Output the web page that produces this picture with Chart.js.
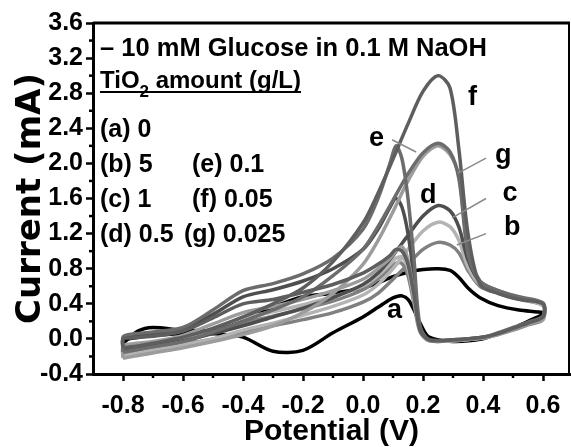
<!DOCTYPE html>
<html><head><meta charset="utf-8">
<script src="https://cdn.jsdelivr.net/npm/chart.js@4.4.0/dist/chart.umd.min.js"></script>
<style>html,body{margin:0;padding:0;background:#fff;}#wrap{position:relative;width:571px;height:447px;}</style>
</head><body><div id="wrap"><canvas id="c"></canvas></div>
<script>
// Potential grids (V): forward scan -0.8 -> 0.6, reverse scan 0.6 -> -0.8
const potF = [-0.8,-0.75,-0.7,-0.6,-0.5,-0.4,-0.3,-0.2,-0.1,0.0,0.05,0.1,0.15,0.2,0.25,0.29,0.32,0.35,0.39,0.45,0.52,0.6];
const potR = [0.6,0.55,0.5,0.45,0.4,0.3,0.22,0.19,0.17,0.15,0.13,0.11,0.09,0.05,0.0,-0.1,-0.2,-0.3,-0.4,-0.5,-0.6,-0.7,-0.78,-0.8];

// Current (mA), forward scans
const fwdA = [-0.05,0.09,0.13,0.1,0.1,0.2,0.36,0.48,0.52,0.58,0.64,0.71,0.76,0.79,0.8,0.78,0.7,0.58,0.47,0.38,0.33,0.3];
const fwdB = [-0.18,-0.15,-0.12,-0.06,0.0,0.08,0.15,0.22,0.3,0.42,0.52,0.68,0.85,1.02,1.1,1.07,0.98,0.78,0.6,0.52,0.45,0.38];
const fwdC = [-0.2,-0.16,-0.13,-0.07,0.0,0.1,0.18,0.27,0.37,0.5,0.62,0.8,1.02,1.23,1.33,1.28,1.12,0.82,0.62,0.53,0.46,0.38];
const fwdD = [-0.12,-0.1,-0.08,-0.02,0.06,0.15,0.25,0.35,0.47,0.62,0.75,0.95,1.18,1.4,1.52,1.46,1.27,0.9,0.65,0.55,0.47,0.4];
const fwdE = [-0.15,-0.12,-0.09,-0.03,0.08,0.2,0.33,0.48,0.72,1.02,1.28,1.58,1.88,2.12,2.23,2.13,1.82,0.98,0.66,0.55,0.48,0.41];
const fwdF = [-0.1,-0.08,-0.05,0.02,0.12,0.25,0.4,0.58,0.88,1.32,1.66,2.05,2.45,2.82,3.0,2.86,2.15,1.2,0.62,0.52,0.45,0.4];
const fwdG = [-0.22,-0.19,-0.16,-0.1,-0.03,0.05,0.15,0.3,0.52,0.85,1.12,1.45,1.8,2.08,2.2,2.1,1.85,1.0,0.66,0.55,0.47,0.4];

// Current (mA), reverse scans
const revA = [0.28,0.2,0.12,0.06,0.0,-0.03,0.02,0.18,0.33,0.45,0.49,0.48,0.45,0.36,0.25,0.07,-0.13,-0.14,0.02,0.06,0.06,0.04,0.0,-0.05];
const revB = [0.22,0.16,0.1,0.05,0.01,-0.02,-0.02,0.08,0.4,0.72,0.86,0.86,0.8,0.68,0.56,0.43,0.34,0.26,0.18,0.07,-0.03,-0.09,-0.12,-0.13];
const revC = [0.23,0.17,0.11,0.05,0.01,-0.02,-0.02,0.1,0.45,0.8,0.93,0.92,0.85,0.72,0.6,0.48,0.39,0.31,0.24,0.12,0.0,-0.06,-0.09,-0.1];
const revD = [0.25,0.18,0.12,0.06,0.02,-0.01,-0.01,0.12,0.7,1.2,1.5,1.6,1.5,1.25,1.02,0.8,0.66,0.56,0.48,0.28,0.12,0.06,0.03,0.0];
const revE = [0.26,0.19,0.13,0.07,0.02,-0.01,-0.01,0.15,0.9,1.6,2.05,2.2,2.0,1.6,1.25,0.92,0.74,0.63,0.55,0.33,0.13,0.08,0.05,0.02];
const revF = [0.25,0.18,0.12,0.06,0.02,-0.01,-0.01,0.1,0.5,0.85,1.0,1.02,0.95,0.85,0.75,0.62,0.53,0.45,0.4,0.24,0.09,0.03,0.01,0.0];
const revG = [0.24,0.17,0.11,0.05,0.01,-0.02,-0.02,0.1,0.5,0.9,1.05,1.0,0.92,0.8,0.68,0.55,0.45,0.37,0.3,0.17,0.04,-0.03,-0.06,-0.08];

const seriesNames = ['a','b','c','d','e','f','g'];
const xTicks = [-0.8,-0.6,-0.4,-0.2,0.0,0.2,0.4,0.6];
const xMinor = [-0.7,-0.5,-0.3,-0.1,0.1,0.3,0.5];
const yTicks = [-0.4,0.0,0.4,0.8,1.2,1.6,2.0,2.4,2.8,3.2,3.6];
const yMinor = [-0.2,0.2,0.6,1.0,1.4,1.8,2.2,2.6,3.0,3.4];

const titleLine = '\u2013 10 mM Glucose in 0.1 M NaOH';
const amountTitle = ['TiO', '2', ' amount (g/L)'];
const legendCol1 = ['(a) 0','(b) 5','(c) 1','(d) 0.5'];
const legendCol2 = ['','(e) 0.1','(f) 0.05','(g) 0.025'];

// curve letter labels (V, mA) and leader lines
const labelPos = {a:[0.08,0.24], b:[0.47,1.18], c:[0.465,1.57], d:[0.19,1.55], e:[0.02,2.2], f:[0.35,2.66], g:[0.44,2.0]};
const leaders = {b:[[0.41,1.2],[0.313,1.07]], c:[[0.41,1.6],[0.297,1.38]], g:[[0.41,2.06],[0.317,1.89]], e:[[0.097,2.27],[0.177,2.13]]};

const colors = {a:'#000000', b:'#808080', c:'#b4b4b4', d:'#4e4e4e', e:'#6c6c6c', f:'#5e5e5e', g:'#9c9c9c'};
const FONT = '"Liberation Sans", Arial, sans-serif';

const fwd = {a:fwdA,b:fwdB,c:fwdC,d:fwdD,e:fwdE,f:fwdF,g:fwdG};
const rev = {a:revA,b:revB,c:revC,d:revD,e:revE,f:revF,g:revG};

function loop(k){
  const pts = potF.map((v,i)=>({x:v,y:fwd[k][i]}));
  potR.forEach((v,i)=>pts.push({x:v,y:rev[k][i]}));
  pts.push({x:potF[0],y:fwd[k][0]});
  return pts;
}

const drawOrder = ['f','e','g','d','c','b','a'];
const datasets = drawOrder.map(k=>({
  label:k, data:loop(k), borderColor:colors[k], borderWidth:3.5,
  pointRadius:0, tension:0.3, fill:false, showLine:true
}));

const overlay = {
  id:'overlay',
  afterDraw(chart){
    const {ctx, chartArea:ca, scales:{x,y}} = chart;
    ctx.save();
    ctx.strokeStyle='#000'; ctx.lineWidth=3;
    ctx.beginPath(); ctx.moveTo(ca.left, ca.top); ctx.lineTo(ca.right, ca.top); ctx.stroke();
    ctx.lineWidth=2;
    ctx.beginPath(); ctx.moveTo(ca.right-1, ca.top); ctx.lineTo(ca.right-1, ca.bottom); ctx.stroke();
    ctx.lineWidth=2.5;
    xMinor.forEach(v=>{const px=x.getPixelForValue(v); ctx.beginPath(); ctx.moveTo(px,ca.bottom); ctx.lineTo(px,ca.bottom+4); ctx.stroke();});
    yMinor.forEach(v=>{const py=y.getPixelForValue(v); ctx.beginPath(); ctx.moveTo(ca.left,py); ctx.lineTo(ca.left-4,py); ctx.stroke();});
    ctx.strokeStyle='#8a8a8a'; ctx.lineWidth=1.5;
    Object.keys(leaders).forEach(k=>{
      const [p,q]=leaders[k];
      ctx.beginPath(); ctx.moveTo(x.getPixelForValue(p[0]),y.getPixelForValue(p[1]));
      ctx.lineTo(x.getPixelForValue(q[0]),y.getPixelForValue(q[1])); ctx.stroke();
    });
    ctx.fillStyle='#000'; ctx.font='bold 27px '+FONT; ctx.textAlign='left'; ctx.textBaseline='alphabetic';
    seriesNames.forEach(k=>{
      ctx.fillText(k, x.getPixelForValue(labelPos[k][0]), y.getPixelForValue(labelPos[k][1]));
    });
    const lx = ca.left+7;
    ctx.font='bold 25.5px '+FONT;
    ctx.fillText(titleLine, lx, ca.top+33);
    let cx = lx; const by = ca.top+65;
    ctx.font='bold 24px '+FONT;
    ctx.fillText(amountTitle[0], cx, by); cx += ctx.measureText(amountTitle[0]).width;
    ctx.font='bold 17px '+FONT;
    ctx.fillText(amountTitle[1], cx, by+9); cx += ctx.measureText(amountTitle[1]).width;
    ctx.font='bold 24px '+FONT;
    ctx.fillText(amountTitle[2], cx, by); cx += ctx.measureText(amountTitle[2]).width;
    ctx.strokeStyle='#000'; ctx.lineWidth=2;
    ctx.beginPath(); ctx.moveTo(lx, by+4); ctx.lineTo(cx, by+4); ctx.stroke();
    ctx.font='bold 25px '+FONT;
    legendCol1.forEach((t,i)=>{ ctx.fillText(t, lx, ca.top+114+i*35); });
    legendCol2.forEach((t,i)=>{ if(t) ctx.fillText(t, (t.startsWith('(g)')? lx+84 : lx+92), ca.top+114+i*35); });
    ctx.restore();
  }
};

new Chart(document.getElementById('c'), {
  type:'scatter',
  data:{datasets},
  plugins:[overlay],
  options:{
    responsive:true, maintainAspectRatio:false, animation:false,
    layout:{padding:{top:23,right:1,left:0,bottom:0}},
    plugins:{legend:{display:false}, tooltip:{enabled:false}},
    scales:{
      x:{type:'linear', min:-0.9, max:0.69,
        afterBuildTicks:s=>{s.ticks = xTicks.map(v=>({value:v}));},
        afterFit:s=>{s.height=73;},
        border:{color:'#000', width:3},
        grid:{display:true, drawOnChartArea:false, drawTicks:true, tickLength:7, tickWidth:2.5, tickColor:'#000'},
        ticks:{color:'#000', font:{family:FONT, weight:'bold', size:25}, padding:10, maxRotation:0, autoSkip:false,
          callback:v=>Number(v).toFixed(1)},
        title:{display:true, text:'Potential (V)', color:'#000', font:{family:FONT, weight:'bold', size:30, lineHeight:1}, padding:{top:0,bottom:0}}
      },
      y:{type:'linear', min:-0.4, max:3.6,
        afterBuildTicks:s=>{s.ticks = yTicks.map(v=>({value:v}));},
        afterFit:s=>{s.width=93;},
        border:{color:'#000', width:3},
        grid:{display:true, drawOnChartArea:false, drawTicks:true, tickLength:7, tickWidth:2.5, tickColor:'#000'},
        ticks:{color:'#000', font:{family:FONT, weight:'bold', size:25}, padding:3, autoSkip:false,
          callback:v=>Number(v).toFixed(1)},
        title:{display:true, text:'Current (mA)', color:'#000', font:{family:'"DejaVu Sans", sans-serif', weight:'bold', size:34, lineHeight:1}, padding:{top:14,bottom:0}}
      }
    }
  }
});
</script></body></html>
